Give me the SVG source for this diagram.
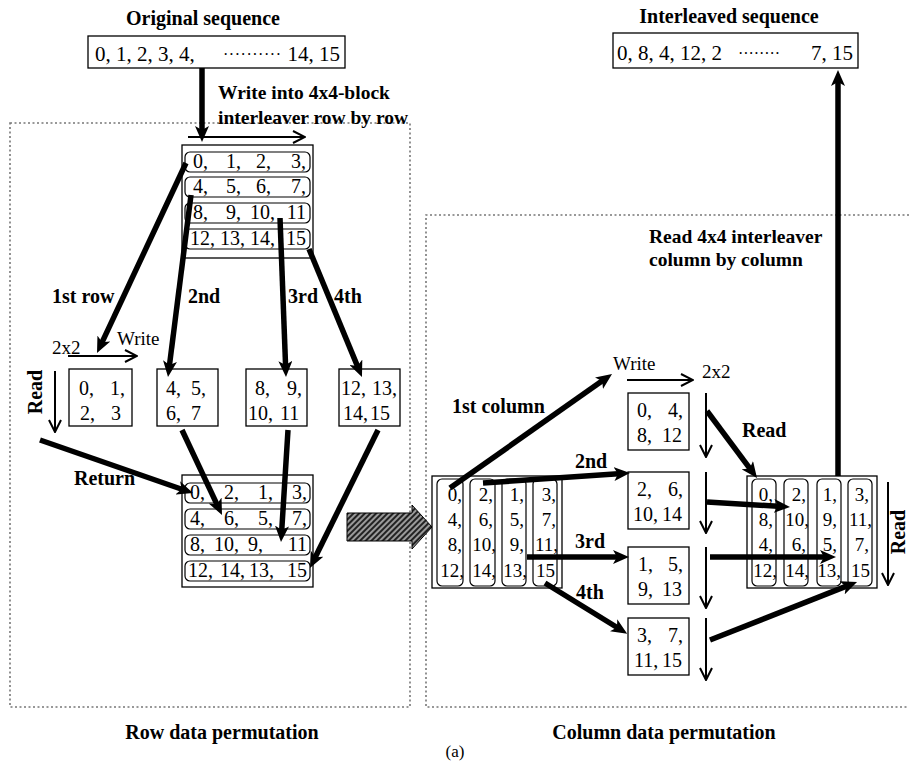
<svg xmlns="http://www.w3.org/2000/svg" width="909" height="762" viewBox="0 0 909 762">
  <style>
    text { font-family: "Liberation Serif", "Times New Roman", serif; fill: #000; }
    .title { font-size: 20px; font-weight: bold; }
    .head2 { font-size: 19.5px; font-weight: bold; }
    .lbl { font-size: 20px; font-weight: bold; }
    .reg { font-size: 19px; }
    .num { font-size: 20px; }
    .numc { font-size: 19px; }
    .seq { font-size: 21px; }
    .dots { font-size: 16px; }
    .box { fill: #fff; stroke: #000; stroke-width: 1.3; }
    .row { fill: none; stroke: #000; stroke-width: 1.2; }
    .frame { fill: none; stroke: #777; stroke-width: 1.6; stroke-dasharray: 2 2.5; }
    .thick { fill: none; stroke: #000; stroke-width: 5.5; marker-end: url(#head); }
    .thin { fill: none; stroke: #000; stroke-width: 2; marker-end: url(#open); }
  </style>
  <defs>
    <marker id="head" markerUnits="userSpaceOnUse" viewBox="0 0 16 14" markerWidth="16" markerHeight="14" refX="8" refY="7" orient="auto">
      <path d="M0,0 L16,7 L0,14 L4,7 z" fill="#000"/>
    </marker>
    <marker id="open" markerUnits="userSpaceOnUse" viewBox="0 0 14 14" markerWidth="14" markerHeight="14" refX="13" refY="7" orient="auto">
      <path d="M1,1 L13,7 L1,13" fill="none" stroke="#000" stroke-width="2"/>
    </marker>
    <pattern id="hatch" width="4" height="4" patternUnits="userSpaceOnUse" patternTransform="rotate(45)">
      <rect width="4" height="4" fill="#999"/>
      <line x1="1" y1="0" x2="1" y2="4" stroke="#222" stroke-width="2"/>
    </pattern>
  </defs>

  <!-- dotted section frames -->
  <g id="frames">
    <rect class="frame" x="10" y="123" width="400" height="584"/>
    <path class="frame" d="M909,215 H426 V707 H909"/>
  </g>

  <!-- titles and captions -->
  <g id="captions">
    <text class="title" x="203" y="25" text-anchor="middle">Original sequence</text>
    <text class="title" x="729" y="23" text-anchor="middle">Interleaved sequence</text>
    <text class="head2" x="218" y="99">Write into 4x4-block</text>
    <text class="head2" x="218" y="124">interleaver row by row</text>
    <text class="head2" x="649" y="243">Read 4x4 interleaver</text>
    <text class="head2" x="649" y="266">column by column</text>
    <text class="lbl" x="222" y="739" text-anchor="middle">Row data permutation</text>
    <text class="lbl" x="664" y="739" text-anchor="middle">Column data permutation</text>
    <text class="reg" x="455" y="757" text-anchor="middle" style="font-size:17px">(a)</text>
  </g>

  <!-- original sequence -->
  <g id="original">
    <rect class="box" x="88" y="36" width="257" height="32"/>
    <text class="seq" x="95" y="61">0, 1, 2, 3, 4,</text>
    <text class="dots" x="223" y="60" textLength="58" lengthAdjust="spacing">··········</text>
    <text class="seq" x="340" y="61" text-anchor="end">14, 15</text>
  </g>

  <!-- interleaved sequence -->
  <g id="interleaved">
    <rect class="box" x="613" y="33" width="245" height="35"/>
    <text class="seq" x="617" y="60">0, 8, 4, 12, 2</text>
    <text class="dots" x="738" y="59" textLength="42" lengthAdjust="spacing">········</text>
    <text class="seq" x="853" y="60" text-anchor="end">7, 15</text>
  </g>

  <!-- 4x4 interleaver written row by row -->
  <g id="block-rows">
    <rect class="box" x="182" y="145" width="131" height="113"/>
    <rect class="row" x="185" y="152" width="125" height="20" rx="5"/>
    <rect class="row" x="185" y="177" width="125" height="20" rx="5"/>
    <rect class="row" x="185" y="203" width="125" height="20" rx="5"/>
    <rect class="row" x="185" y="229" width="125" height="20" rx="5"/>
    <text class="num" text-anchor="end"><tspan x="208" y="168">0,</tspan><tspan x="241" y="168">1,</tspan><tspan x="271" y="168">2,</tspan><tspan x="306" y="168">3,</tspan></text>
    <text class="num" text-anchor="end"><tspan x="208" y="193">4,</tspan><tspan x="241" y="193">5,</tspan><tspan x="271" y="193">6,</tspan><tspan x="306" y="193">7,</tspan></text>
    <text class="num" text-anchor="end"><tspan x="208" y="219">8,</tspan><tspan x="241" y="219">9,</tspan><tspan x="275" y="219">10,</tspan><tspan x="306" y="219">11</tspan></text>
    <text class="num" text-anchor="end"><tspan x="215" y="245">12,</tspan><tspan x="245" y="245">13,</tspan><tspan x="275" y="245">14,</tspan><tspan x="306" y="245">15</tspan></text>
  </g>

  <!-- 2x2 row blocks -->
  <g id="row-block-1">
    <rect class="box" x="69" y="369" width="63" height="57"/>
    <text class="num"><tspan x="79" y="395">0,</tspan><tspan x="110" y="395">1,</tspan><tspan x="80" y="420">2,</tspan><tspan x="111" y="420">3</tspan></text>
  </g>
  <g id="row-block-2">
    <rect class="box" x="157" y="369" width="61" height="57"/>
    <text class="num"><tspan x="166" y="395">4,</tspan><tspan x="191" y="395">5,</tspan><tspan x="166" y="420">6,</tspan><tspan x="191" y="420">7</tspan></text>
  </g>
  <g id="row-block-3">
    <rect class="box" x="246" y="369" width="61" height="57"/>
    <text class="num"><tspan x="255" y="395">8,</tspan><tspan x="287" y="395">9,</tspan><tspan x="248" y="420">10,</tspan><tspan x="280" y="420">11</tspan></text>
  </g>
  <g id="row-block-4">
    <rect class="box" x="339" y="369" width="61" height="57"/>
    <text class="num"><tspan x="341" y="395">12,</tspan><tspan x="372" y="395">13,</tspan><tspan x="343" y="420">14,</tspan><tspan x="370" y="420">15</tspan></text>
  </g>

  <!-- block after row permutation -->
  <g id="block-return">
    <rect class="box" x="182" y="475" width="131" height="112"/>
    <rect class="row" x="185" y="483" width="125" height="20" rx="5"/>
    <rect class="row" x="185" y="509" width="125" height="20" rx="5"/>
    <rect class="row" x="185" y="535" width="125" height="20" rx="5"/>
    <rect class="row" x="185" y="561" width="125" height="20" rx="5"/>
    <text class="num" text-anchor="end"><tspan x="205" y="499">0,</tspan><tspan x="239" y="499">2,</tspan><tspan x="273" y="499">1,</tspan><tspan x="307" y="499">3,</tspan></text>
    <text class="num" text-anchor="end"><tspan x="205" y="525">4,</tspan><tspan x="239" y="525">6,</tspan><tspan x="273" y="525">5,</tspan><tspan x="307" y="525">7,</tspan></text>
    <text class="num" text-anchor="end"><tspan x="205" y="551">8,</tspan><tspan x="239" y="551">10,</tspan><tspan x="263" y="551">9,</tspan><tspan x="307" y="551">11</tspan></text>
    <text class="num" text-anchor="end"><tspan x="213" y="577">12,</tspan><tspan x="245" y="577">14,</tspan><tspan x="274" y="577">13,</tspan><tspan x="307" y="577">15</tspan></text>
  </g>

  <!-- transfer arrow between the two stages -->
  <g id="transfer">
    <path d="M347,513 H412 V505 L432,527 L412,549 V541 H347 Z" fill="url(#hatch)" stroke="#000" stroke-width="1"/>
  </g>

  <!-- block read column by column -->
  <g id="block-cols">
    <rect class="box" x="432" y="476" width="130" height="112"/>
    <rect class="row" x="437" y="479" width="26" height="107" rx="5"/>
    <rect class="row" x="470" y="479" width="25" height="107" rx="5"/>
    <rect class="row" x="502" y="479" width="24" height="107" rx="5"/>
    <rect class="row" x="533" y="479" width="24" height="107" rx="5"/>
    <text class="numc" text-anchor="end"><tspan x="462" y="501">0,</tspan><tspan x="462" y="526">4,</tspan><tspan x="462" y="551">8,</tspan><tspan x="464" y="577">12,</tspan></text>
    <text class="numc" text-anchor="end"><tspan x="493" y="501">2,</tspan><tspan x="493" y="526">6,</tspan><tspan x="496" y="551">10,</tspan><tspan x="496" y="577">14,</tspan></text>
    <text class="numc" text-anchor="end"><tspan x="524" y="501">1,</tspan><tspan x="524" y="526">5,</tspan><tspan x="524" y="551">9,</tspan><tspan x="527" y="577">13,</tspan></text>
    <text class="numc" text-anchor="end"><tspan x="556" y="501">3,</tspan><tspan x="556" y="526">7,</tspan><tspan x="558" y="551">11,</tspan><tspan x="555" y="577">15</tspan></text>
  </g>

  <!-- 2x2 column blocks -->
  <g id="col-block-1">
    <rect class="box" x="628" y="393" width="61" height="57"/>
    <text class="num"><tspan x="637" y="417">0,</tspan><tspan x="668" y="417">4,</tspan><tspan x="637" y="442">8,</tspan><tspan x="662" y="442">12</tspan></text>
  </g>
  <g id="col-block-2">
    <rect class="box" x="628" y="472" width="61" height="57"/>
    <text class="num"><tspan x="637" y="496">2,</tspan><tspan x="668" y="496">6,</tspan><tspan x="633" y="521">10,</tspan><tspan x="662" y="521">14</tspan></text>
  </g>
  <g id="col-block-3">
    <rect class="box" x="628" y="547" width="61" height="57"/>
    <text class="num"><tspan x="638" y="571">1,</tspan><tspan x="668" y="571">5,</tspan><tspan x="638" y="596">9,</tspan><tspan x="662" y="596">13</tspan></text>
  </g>
  <g id="col-block-4">
    <rect class="box" x="628" y="618" width="61" height="57"/>
    <text class="num"><tspan x="637" y="642">3,</tspan><tspan x="668" y="642">7,</tspan><tspan x="634" y="667">11,</tspan><tspan x="662" y="667">15</tspan></text>
  </g>

  <!-- final interleaved block -->
  <g id="block-final">
    <rect class="box" x="747" y="476" width="130" height="112"/>
    <rect class="row" x="752" y="479" width="24" height="107" rx="5"/>
    <rect class="row" x="784" y="479" width="24" height="107" rx="5"/>
    <rect class="row" x="817" y="479" width="24" height="107" rx="5"/>
    <rect class="row" x="848" y="479" width="24" height="107" rx="5"/>
    <text class="numc" text-anchor="end"><tspan x="773" y="501">0,</tspan><tspan x="773" y="526">8,</tspan><tspan x="773" y="551">4,</tspan><tspan x="777" y="577">12,</tspan></text>
    <text class="numc" text-anchor="end"><tspan x="806" y="501">2,</tspan><tspan x="809" y="526">10,</tspan><tspan x="806" y="551">6,</tspan><tspan x="809" y="577">14,</tspan></text>
    <text class="numc" text-anchor="end"><tspan x="837" y="501">1,</tspan><tspan x="837" y="526">9,</tspan><tspan x="837" y="551">5,</tspan><tspan x="841" y="577">13,</tspan></text>
    <text class="numc" text-anchor="end"><tspan x="869" y="501">3,</tspan><tspan x="872" y="526">11,</tspan><tspan x="869" y="551">7,</tspan><tspan x="870" y="577">15</tspan></text>
  </g>

  <!-- step labels -->
  <g id="labels">
    <text class="lbl" x="52" y="303">1st row</text>
    <text class="lbl" x="188" y="303">2nd</text>
    <text class="lbl" x="288" y="303">3rd</text>
    <text class="lbl" x="334" y="303">4th</text>
    <text class="reg" x="52" y="354">2x2</text>
    <text class="reg" x="117" y="345">Write</text>
    <text class="lbl" transform="translate(42,392) rotate(-90)" text-anchor="middle">Read</text>
    <text class="lbl" x="74" y="485">Return</text>
    <text class="lbl" x="452" y="413">1st column</text>
    <text class="reg" x="613" y="370">Write</text>
    <text class="reg" x="702" y="378">2x2</text>
    <text class="lbl" x="575" y="468">2nd</text>
    <text class="lbl" x="575" y="548">3rd</text>
    <text class="lbl" x="576" y="599">4th</text>
    <text class="lbl" x="742" y="437">Read</text>
    <text class="lbl" transform="translate(905,532) rotate(-90)" text-anchor="middle">Read</text>
  </g>

  <!-- connectors -->
  <g id="connectors">
    <!-- write into the 4x4 block -->
    <path class="thick" d="M202,68 V134"/>
    <path class="thin" d="M188,137 H305"/>
    <!-- rows to 2x2 blocks -->
    <path class="thick" d="M186,163 L100.4,345.8"/>
    <path class="thick" d="M191,195 L169,369"/>
    <path class="thick" d="M280,218 L285.7,369"/>
    <path class="thick" d="M309,249 L358.9,369.6"/>
    <path class="thin" d="M68,356 H137"/>
    <path class="thin" d="M55,371 V432"/>
    <!-- 2x2 blocks back into the 4x4 block -->
    <path class="thick" d="M40,440 L185.4,490.5"/>
    <path class="thick" d="M182,430 L218.6,507.8"/>
    <path class="thick" d="M288,430 L281.5,534"/>
    <path class="thick" d="M378,430 L313.5,560.8"/>
    <!-- columns to 2x2 blocks -->
    <path class="thick" d="M450,488 L605.5,378.6"/>
    <path class="thick" d="M483,483 L622,473.5"/>
    <path class="thick" d="M527,557 L621,557"/>
    <path class="thick" d="M545,583 L620.4,629.5"/>
    <path class="thin" d="M627,380 H693"/>
    <path class="thin" d="M706,393 V457"/>
    <path class="thin" d="M706,472 V533"/>
    <path class="thin" d="M706,547 V608"/>
    <path class="thin" d="M706,618 V680"/>
    <!-- 2x2 blocks into the final block -->
    <path class="thick" d="M707,411 L752.2,471.6"/>
    <path class="thick" d="M707,502 L782,506.5"/>
    <path class="thick" d="M710,557 L828,557"/>
    <path class="thick" d="M710,640 L849.6,584.9"/>
    <path class="thin" d="M888,482 V585"/>
    <!-- read out to the interleaved sequence -->
    <path class="thick" d="M838,476 V78"/>
  </g>
</svg>
